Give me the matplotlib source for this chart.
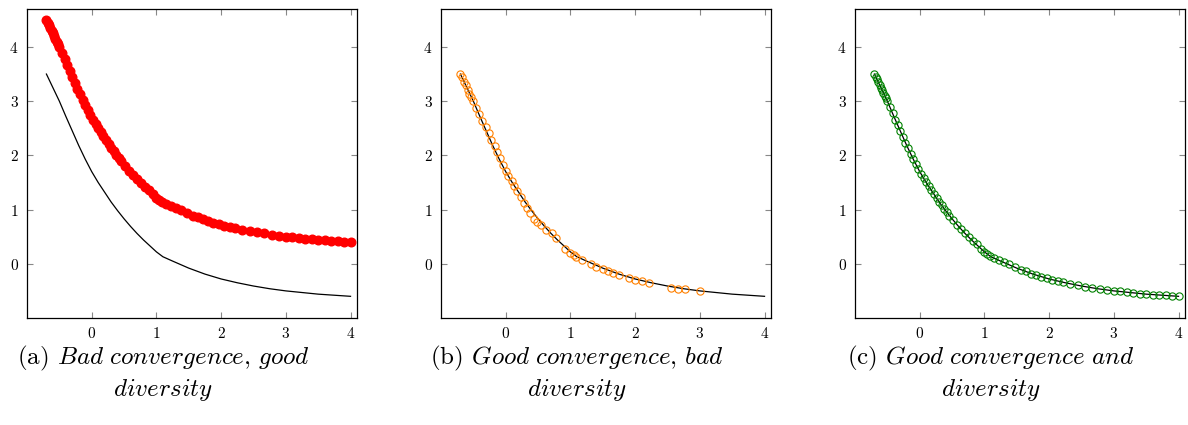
import matplotlib.pyplot as plt

plt.rcParams['mathtext.fontset'] = 'cm'
plt.rcParams['font.family'] = 'cmr10'
plt.rcParams['axes.formatter.use_mathtext'] = True

# True Pareto front (black line)
front_x = [-0.70, -0.60, -0.50, -0.40, -0.30, -0.20, -0.10, 0.00, 0.10, 0.20,
           0.30, 0.40, 0.50, 0.60, 0.70, 0.80, 0.90, 1.00, 1.10, 1.25,
           1.50, 1.75, 2.00, 2.25, 2.50, 2.75, 3.00, 3.50, 4.00]
front_y = [3.50, 3.25, 3.00, 2.72, 2.45, 2.18, 1.93, 1.70, 1.50, 1.32,
           1.14, 0.98, 0.83, 0.69, 0.56, 0.44, 0.33, 0.22, 0.13, 0.05,
           -0.08, -0.19, -0.28, -0.35, -0.41, -0.46, -0.50, -0.56, -0.60]

# Solution set positions, shared by (a) and (c)
sol_x = [-0.70, -0.68, -0.66, -0.64, -0.62, -0.60, -0.58, -0.56, -0.54, -0.52,
         -0.50, -0.46, -0.42, -0.38, -0.34, -0.30, -0.26, -0.22, -0.18, -0.14,
         -0.10, -0.06, -0.02, 0.02, 0.06, 0.10, 0.14, 0.18, 0.22, 0.26,
         0.30, 0.34, 0.38, 0.42, 0.46, 0.52, 0.58, 0.64, 0.70, 0.76,
         0.82, 0.88, 0.94, 1.00, 1.04, 1.09, 1.15, 1.22, 1.30, 1.38,
         1.47, 1.56, 1.64, 1.72, 1.80, 1.88, 1.96, 2.05, 2.14, 2.22,
         2.33, 2.44, 2.56, 2.67, 2.78, 2.89, 3.00, 3.10, 3.20, 3.30,
         3.40, 3.50, 3.60, 3.70, 3.80, 3.90, 4.00]

# (a) shifted away from the front
bad_y = [4.50, 4.45, 4.40, 4.35, 4.30, 4.25, 4.20, 4.15, 4.10, 4.05,
         4.00, 3.89, 3.78, 3.66, 3.56, 3.45, 3.34, 3.23, 3.13, 3.03,
         2.93, 2.84, 2.74, 2.66, 2.58, 2.50, 2.43, 2.36, 2.28, 2.21,
         2.14, 2.08, 2.01, 1.95, 1.89, 1.80, 1.72, 1.64, 1.56, 1.49,
         1.42, 1.36, 1.28, 1.22, 1.18, 1.14, 1.10, 1.07, 1.03, 0.99,
         0.94, 0.89, 0.86, 0.82, 0.79, 0.76, 0.73, 0.70, 0.68, 0.66,
         0.63, 0.60, 0.58, 0.56, 0.53, 0.52, 0.50, 0.49, 0.48, 0.46,
         0.45, 0.44, 0.43, 0.42, 0.42, 0.41, 0.40]

# (c) on the front
good_y = [3.50, 3.45, 3.40, 3.35, 3.30, 3.25, 3.20, 3.15, 3.10, 3.05,
          3.00, 2.89, 2.78, 2.66, 2.56, 2.45, 2.34, 2.23, 2.13, 2.03,
          1.93, 1.84, 1.74, 1.66, 1.58, 1.50, 1.43, 1.36, 1.28, 1.21,
          1.14, 1.08, 1.01, 0.95, 0.89, 0.80, 0.72, 0.64, 0.56, 0.49,
          0.42, 0.36, 0.28, 0.22, 0.18, 0.14, 0.10, 0.07, 0.03, -0.01,
          -0.06, -0.11, -0.14, -0.18, -0.21, -0.24, -0.27, -0.30, -0.32, -0.34,
          -0.37, -0.40, -0.42, -0.44, -0.47, -0.48, -0.50, -0.51, -0.52, -0.54,
          -0.55, -0.56, -0.57, -0.58, -0.58, -0.59, -0.60]

# (b) on the front but clustered
clust_x = [-0.70, -0.68, -0.65, -0.62, -0.59, -0.56, -0.53, -0.50, -0.46, -0.41,
           -0.36, -0.31, -0.26, -0.22, -0.17, -0.13, -0.09, -0.04, 0.00, 0.04,
           0.09, 0.13, 0.18, 0.23, 0.28, 0.33, 0.38, 0.44, 0.48, 0.55,
           0.63, 0.71, 0.77, 0.92, 1.00, 1.05, 1.09, 1.18, 1.32, 1.40,
           1.50, 1.58, 1.66, 1.75, 1.90, 2.00, 2.10, 2.21, 2.55, 2.67,
           2.77, 3.00]
clust_y = [3.50, 3.44, 3.36, 3.29, 3.21, 3.14, 3.07, 3.00, 2.88, 2.77,
           2.64, 2.52, 2.41, 2.29, 2.17, 2.06, 1.95, 1.82, 1.71, 1.62,
           1.52, 1.43, 1.34, 1.23, 1.13, 1.03, 0.94, 0.83, 0.77, 0.71,
           0.63, 0.56, 0.47, 0.28, 0.20, 0.17, 0.13, 0.07, 0.00, -0.06,
           -0.10, -0.14, -0.17, -0.20, -0.27, -0.30, -0.32, -0.36, -0.44, -0.46,
           -0.47, -0.50]

captions = ['(a) $\\mathit{Bad\\ convergence}$, $\\mathit{good}$',
            '(b) $\\mathit{Good\\ convergence}$, $\\mathit{bad}$',
            '(c) $\\mathit{Good\\ convergence\\ and}$']
caption_cx = [163, 577, 991]

W, H = 1188, 425
fig = plt.figure(figsize=(W / 100, H / 100), dpi=100)

axes_left = [27, 441, 855]
axes = []
for left in axes_left:
    ax = fig.add_axes([left / W, 1 - 318 / H, 330 / W, 309 / H])
    ax.plot(front_x, front_y, color='black', lw=0.9, zorder=2)
    ax.set_xlim(-1.0, 4.1)
    ax.set_ylim(-1.0, 4.7)
    ax.set_xticks([0, 1, 2, 3, 4])
    ax.set_yticks([0, 1, 2, 3, 4])
    ax.tick_params(direction='in', length=4, width=0.8, color='#888888',
                   top=True, right=True, labelsize=11, pad=6)
    for sp in ax.spines.values():
        sp.set_linewidth(0.9)
    axes.append(ax)

axes[0].plot(sol_x, bad_y, 'o', color='red', ms=6.2, mec='red', zorder=3)
axes[1].plot(clust_x, clust_y, 'o', mfc='none', mec='#ff8000', mew=0.8, ms=5.2, zorder=3)
axes[2].plot(sol_x, good_y, 'o', mfc='none', mec='#008000', mew=0.8, ms=5.2, zorder=3)

for txt, cx in zip(captions, caption_cx):
    fig.text(cx / W, 1 - 358 / H, txt, ha='center', va='center', fontsize=18)
    fig.text(cx / W, 1 - 390 / H, '$\\mathit{diversity}$',
             ha='center', va='center', fontsize=18)

fig.savefig('out.png', dpi=100)
